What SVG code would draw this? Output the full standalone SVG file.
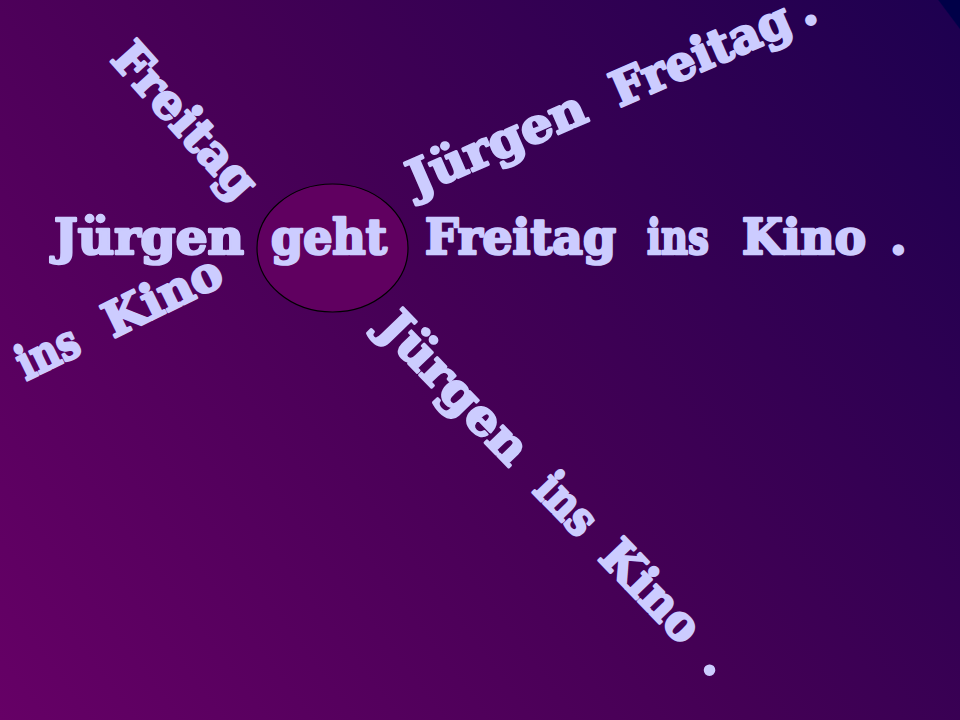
<svg xmlns="http://www.w3.org/2000/svg" width="960" height="720" viewBox="0 0 960 720">
  <defs>
    <linearGradient id="bg" gradientUnits="userSpaceOnUse" x1="0" y1="720" x2="960" y2="0">
      <stop offset="0" stop-color="#660066"/>
      <stop offset="0.5" stop-color="#440055"/>
      <stop offset="0.985" stop-color="#1e0050"/>
      <stop offset="0.986" stop-color="#000048"/>
      <stop offset="1" stop-color="#000048"/>
    </linearGradient>
  </defs>
  <style>
    .w { font-family: "DejaVu Serif", "Liberation Serif", serif; font-weight: bold; font-size: 48px; fill: #CCCCFF; stroke: #CCCCFF; stroke-width: 2.6px; stroke-linejoin: round; }
  </style>
  <rect id="background" x="0" y="0" width="960" height="720" fill="url(#bg)"/>
  <g id="connectors"></g>
  <g id="ellipse-geht">
    <ellipse cx="332.5" cy="248" rx="75.5" ry="64" fill="#600060" stroke="#000000" stroke-width="1.2"/>
  </g>
  <g id="main-sentence">
    <text class="w" x="54" y="254" textLength="190" lengthAdjust="spacingAndGlyphs">Jürgen</text>
    <text class="w" x="271" y="254" textLength="116" lengthAdjust="spacingAndGlyphs">geht</text>
    <text class="w" x="425" y="254" textLength="191" lengthAdjust="spacingAndGlyphs">Freitag</text>
    <text class="w" x="647" y="254" textLength="62" lengthAdjust="spacingAndGlyphs">ins</text>
    <text class="w" x="742" y="254" textLength="124" lengthAdjust="spacingAndGlyphs">Kino</text>
    <text class="w" x="890" y="254">.</text>
  </g>
  <g id="branch-freitag" transform="translate(182,123) rotate(48)">
    <text class="w" x="0" y="12" text-anchor="middle" textLength="191" lengthAdjust="spacingAndGlyphs">Freitag</text>
  </g>
  <g id="branch-juergen-freitag" transform="translate(416,196) rotate(-23.5)">
    <text class="w" x="0" y="0" textLength="190" lengthAdjust="spacingAndGlyphs">Jürgen</text>
    <text class="w" x="222" y="0" textLength="191" lengthAdjust="spacingAndGlyphs">Freitag</text>
    <text class="w" x="424" y="0">.</text>
  </g>
  <g id="branch-ins-kino" transform="translate(26,381) rotate(-26)">
    <text class="w" x="0" y="0" textLength="64" lengthAdjust="spacingAndGlyphs">ins</text>
    <text class="w" x="97" y="0" textLength="126" lengthAdjust="spacingAndGlyphs">Kino</text>
  </g>
  <g id="branch-juergen-ins-kino" transform="translate(376,330) rotate(46)">
    <text class="w" x="0" y="0" textLength="192" lengthAdjust="spacingAndGlyphs">Jürgen</text>
    <text class="w" x="224" y="0" textLength="67" lengthAdjust="spacingAndGlyphs">ins</text>
    <text class="w" x="318" y="0" textLength="122" lengthAdjust="spacingAndGlyphs">Kino</text>
    <text class="w" x="468" y="0">.</text>
  </g>
</svg>
